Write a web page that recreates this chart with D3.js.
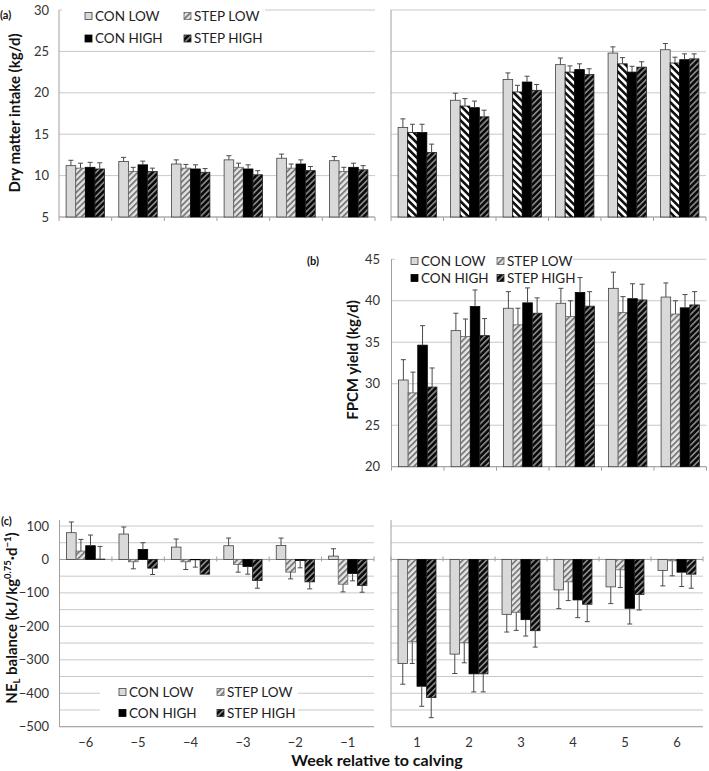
<!DOCTYPE html>
<html><head><meta charset="utf-8">
<script src="https://cdn.jsdelivr.net/npm/d3@7"></script>
<style>
body{margin:0;background:#fff;}
svg{display:block;font-family:Lato,"Open Sans",sans-serif;}
</style></head>
<body><svg id="c" width="709" height="771"></svg>
<script>
// ---------- data ----------
const weeksPre = ["−6","−5","−4","−3","−2","−1"];
const weeksPost = ["1","2","3","4","5","6"];
const series = ["CON LOW","STEP LOW","CON HIGH","STEP HIGH"];

// Dry matter intake (kg/d), weeks -6..-1 then 1..6
const dmiConLow   = [11.2,11.7,11.4,11.9,12.1,11.8, 15.8,19.1,21.6,23.4,24.8,25.2];
const dmiStepLow  = [10.9,10.5,10.9,11.0,10.9,10.5, 15.2,18.4,20.1,22.5,23.5,23.6];
const dmiConHigh  = [11.0,11.3,10.8,10.8,11.4,11.0, 15.2,18.2,21.3,22.8,22.5,24.0];
const dmiStepHigh = [10.8,10.5,10.4,10.1,10.6,10.7, 12.8,17.1,20.3,22.2,23.1,24.1];
const dmiSE = [
  [0.65,0.5,0.5,0.5,0.5,0.5, 1.05,0.85,0.8,0.8,0.75,0.75],
  [0.6,0.5,0.45,0.5,0.5,0.5, 1.0,0.9,0.8,0.75,0.75,0.7],
  [0.6,0.45,0.5,0.5,0.5,0.5, 1.0,0.8,0.7,0.7,0.7,0.7],
  [0.75,0.4,0.45,0.5,0.5,0.5, 1.0,0.8,0.7,0.7,0.65,0.6]
];
// FPCM yield (kg/d), weeks 1..6
const fpcmConLow   = [30.45,36.4,39.1,39.7,41.5,40.45];
const fpcmStepLow  = [28.9,35.7,37.1,38.1,38.6,38.4];
const fpcmConHigh  = [34.65,39.3,39.75,41.0,40.25,39.15];
const fpcmStepHigh = [29.6,35.8,38.5,39.35,40.1,39.5];
const fpcmSE = [
  [2.45,2.1,2.0,1.8,1.95,1.7],
  [2.5,2.1,2.0,1.9,1.9,1.6],
  [2.35,2.0,1.8,1.8,1.8,1.6],
  [2.3,2.05,1.85,1.75,1.9,1.6]
];
// NEL balance, weeks -6..-1 then 1..6
const nelConLow   = [80,76,37,41,42,10, -311,-283,-164,-91,-82,-33];
const nelStepLow  = [25,-7,-7,-15,-38,-74, -246,-249,-158,-67,-31,-4];
const nelConHigh  = [41,30,-1,-21,-3,-42, -379,-342,-180,-121,-146,-38];
const nelStepHigh = [1,-26,-44,-63,-67,-78, -413,-342,-213,-134,-105,-44];
const nelSE = [
  [32,21,24,23,22,22, 62,58,53,56,50,46],
  [35,21,23,23,20,23, 65,60,54,56,53,45],
  [32,20,22,23,22,22, 60,54,49,53,47,43],
  [38,19,0,23,21,20, 60,54,49,52,46,42]
];
const dmiTicks = [5,10,15,20,25,30];
const fpcmTicks = [20,25,30,35,40,45];
const nelTicks = [-500,-400,-300,-200,-100,0,100];
const nelGrid = [-500,-450,-400,-350,-300,-250,-200,-150,-100,-50,0,50,100];

// ---------- setup ----------
const svg = d3.select("#c");
const defs = svg.append("defs");
function stripePattern(id, bg, fg, period, sw, angle){
  const p = defs.append("pattern").attr("id",id).attr("patternUnits","userSpaceOnUse")
    .attr("width",period).attr("height",period).attr("patternTransform",`rotate(${angle})`);
  p.append("rect").attr("width",period).attr("height",period).attr("fill",bg);
  p.append("rect").attr("width",sw).attr("height",period).attr("fill",fg);
}
stripePattern("stepLow","#e4e4e4","#7a7a7a",4.2,1.8,45);
stripePattern("stepLowBW","#ffffff","#111111",5.2,2.6,-45);
stripePattern("stepHigh","#0a0a0a","#8a8a8a",4.2,1.6,45);

const fills = {
  "CON LOW": {fill:"#d9d9d9", stroke:"#404040"},
  "STEP LOW": {fill:"url(#stepLow)", stroke:"#666"},
  "CON HIGH": {fill:"#000", stroke:"#000"},
  "STEP HIGH": {fill:"url(#stepHigh)", stroke:"#222"}
};
const gridCol = "#c9c9c9", axisCol = "#a0a0a0", textCol = "#333";

function drawGroup(opts){
  const {cats, means, ses, range, y, stepLowFill, base, grid, axisTop, zeroTicks} = opts;
  const g = svg.append("g");
  const x0 = d3.scaleBand().domain(cats).range(range).paddingInner(0).paddingOuter(0);
  const x1 = d3.scaleBand().domain(series).range([0,x0.bandwidth()]).paddingInner(0).paddingOuter(0.74);
  g.selectAll("line.grid").data(grid).join("line")
    .attr("x1",range[0]).attr("x2",range[1]).attr("y1",d=>y(d)).attr("y2",d=>y(d))
    .attr("stroke",gridCol).attr("stroke-width",1);
  g.append("line").attr("x1",range[0]).attr("x2",range[0]).attr("y1",axisTop).attr("y2",y(y.domain()[0]))
    .attr("stroke",axisCol);
  g.append("line").attr("x1",range[0]).attr("x2",range[1]).attr("y1",y(y.domain()[0])).attr("y2",y(y.domain()[0]))
    .attr("stroke",axisCol);
  const bounds = cats.map(c=>x0(c)).concat([range[1]]);
  if(zeroTicks){
    g.selectAll("line.zt").data(bounds).join("line")
      .attr("x1",d=>d).attr("x2",d=>d).attr("y1",y(0)-3).attr("y2",y(0)+2).attr("stroke",axisCol);
    g.append("line").attr("x1",range[0]).attr("x2",range[1]).attr("y1",y(0)).attr("y2",y(0)).attr("stroke",axisCol);
  } else {
    g.selectAll("line.bt").data(bounds).join("line")
      .attr("x1",d=>d).attr("x2",d=>d).attr("y1",y(y.domain()[0])).attr("y2",y(y.domain()[0])+4).attr("stroke",axisCol);
  }
  const recs = [];
  series.forEach((s,si)=>{
    cats.forEach((c,ci)=>{ recs.push({s, c, v:means[si][ci], e:ses[si][ci]}); });
  });
  g.selectAll("rect.bar").data(recs).join("rect")
    .attr("x",d=>x0(d.c)+x1(d.s)).attr("width",x1.bandwidth())
    .attr("y",d=>Math.min(y(d.v),y(base))).attr("height",d=>Math.abs(y(d.v)-y(base)))
    .attr("fill",d=> d.s==="STEP LOW" ? stepLowFill : fills[d.s].fill)
    .attr("stroke",d=> d.s==="STEP LOW" && stepLowFill==="url(#stepLowBW)" ? "#111" : fills[d.s].stroke)
    .attr("stroke-width",0.8);
  const eb = recs.filter(d=>d.e>0);
  const ex = d=>x0(d.c)+x1(d.s)+x1.bandwidth()/2;
  const ee = d=> d.v>=base ? y(d.v+d.e) : y(d.v-d.e);
  g.selectAll("line.eb").data(eb).join("line")
    .attr("x1",ex).attr("x2",ex).attr("y1",d=>y(d.v)).attr("y2",ee)
    .attr("stroke","#4a4a4a").attr("stroke-width",1);
  g.selectAll("line.ec").data(eb).join("line")
    .attr("x1",d=>ex(d)-2.5).attr("x2",d=>ex(d)+2.5).attr("y1",ee).attr("y2",ee)
    .attr("stroke","#4a4a4a").attr("stroke-width",1);
  return x0;
}
function yAxisLabels(y, ticks, xr, fmt){
  svg.append("g").selectAll("text").data(ticks).join("text")
    .attr("x",xr).attr("y",d=>y(d)).attr("dy","0.35em").attr("text-anchor","end")
    .attr("font-size",13).attr("fill",textCol).text(fmt||(d=>d));
}
function legend(x, yTop, rowGap, colGap, boxW, boxH, boxX, boxY){
  svg.append("rect").attr("x",boxX).attr("y",boxY).attr("width",boxW).attr("height",boxH).attr("fill","#fff");
  const g = svg.append("g");
  series.forEach((s,i)=>{
    const col = i%2, row = Math.floor(i/2);
    const gx = x+col*colGap, gy = yTop+row*rowGap;
    g.append("rect").attr("x",gx).attr("y",gy-3.5).attr("width",7).attr("height",7)
      .attr("fill", s==="STEP LOW"?"url(#stepLow)":fills[s].fill).attr("stroke",fills[s].stroke).attr("stroke-width",0.8);
    g.append("text").attr("x",gx+10).attr("y",gy).attr("dy","0.35em").attr("font-size",13.5)
      .attr("fill","#222").text(s);
  });
}
const minus = d=> d<0 ? "\u2212"+Math.abs(d) : ""+d;

// ---------- panel (a) ----------
const yA = d3.scaleLinear().domain([5,30]).range([217,10]);
drawGroup({cats:weeksPre, means:[dmiConLow,dmiStepLow,dmiConHigh,dmiStepHigh].map(a=>a.slice(0,6)),
  ses:dmiSE.map(a=>a.slice(0,6)), range:[59,375], y:yA, stepLowFill:"url(#stepLow)", base:5, grid:dmiTicks, axisTop:10});
drawGroup({cats:weeksPost, means:[dmiConLow,dmiStepLow,dmiConHigh,dmiStepHigh].map(a=>a.slice(6)),
  ses:dmiSE.map(a=>a.slice(6)), range:[391,706], y:yA, stepLowFill:"url(#stepLowBW)", base:5, grid:dmiTicks, axisTop:10});
yAxisLabels(yA, dmiTicks, 49);
legend(85, 16, 22.5, 99, 203, 44, 62, 0);
svg.append("text").attr("transform","translate(20,113) rotate(-90)").attr("text-anchor","middle")
  .attr("font-size",15).attr("font-weight","bold").attr("fill","#111").text("Dry matter intake (kg/d)");
svg.append("text").attr("x",0).attr("y",19).attr("font-size",11).attr("font-weight","bold").attr("fill","#111").text("(a)");

// ---------- panel (b) ----------
const yB = d3.scaleLinear().domain([20,45]).range([466.7,259.3]);
drawGroup({cats:weeksPost, means:[fpcmConLow,fpcmStepLow,fpcmConHigh,fpcmStepHigh], ses:fpcmSE,
  range:[391.5,706.5], y:yB, stepLowFill:"url(#stepLow)", base:20, grid:fpcmTicks, axisTop:259});
yAxisLabels(yB, fpcmTicks, 380);
legend(411, 261, 17, 86, 178, 34, 395, 248);
svg.append("text").attr("transform","translate(358,360) rotate(-90)").attr("text-anchor","middle")
  .attr("font-size",15).attr("font-weight","bold").attr("fill","#111").text("FPCM yield (kg/d)");
svg.append("text").attr("x",307).attr("y",265).attr("font-size",11).attr("font-weight","bold").attr("fill","#111").text("(b)");

// ---------- panel (c) ----------
const yC = d3.scaleLinear().domain([-500,100]).range([726.7,526]);
const xCpre = drawGroup({cats:weeksPre, means:[nelConLow,nelStepLow,nelConHigh,nelStepHigh].map(a=>a.slice(0,6)),
  ses:nelSE.map(a=>a.slice(0,6)), range:[59.5,374], y:yC, stepLowFill:"url(#stepLow)", base:0, grid:nelGrid, axisTop:520, zeroTicks:true});
const xCpost = drawGroup({cats:weeksPost, means:[nelConLow,nelStepLow,nelConHigh,nelStepHigh].map(a=>a.slice(6)),
  ses:nelSE.map(a=>a.slice(6)), range:[391,703], y:yC, stepLowFill:"url(#stepLow)", base:0, grid:nelGrid, axisTop:520, zeroTicks:true});
const tl = svg.append("text").attr("transform","translate(17,618) rotate(-90)").attr("text-anchor","middle")
  .attr("font-size",15).attr("font-weight","bold").attr("fill","#111");
tl.append("tspan").text("NE");
tl.append("tspan").attr("font-size",9.5).attr("dy",3).text("L");
tl.append("tspan").attr("dy",-3).text(" balance (kJ/kg");
tl.append("tspan").attr("font-size",9.5).attr("dy",-6).text("0.75");
tl.append("tspan").attr("dy",6).text("·d");
tl.append("tspan").attr("font-size",9.5).attr("dy",-6).text("−1");
tl.append("tspan").attr("dy",6).text(")");
yAxisLabels(yC, nelTicks, 49, minus);
legend(119, 692, 21, 98, 198, 40, 100, 682);
[[xCpre,weeksPre],[xCpost,weeksPost]].forEach(([sc,cats])=>{
  svg.append("g").selectAll("text").data(cats).join("text")
    .attr("x",d=>sc(d)+sc.bandwidth()/2).attr("y",747).attr("text-anchor","middle")
    .attr("font-size",13).attr("fill",textCol).text(d=>d);
});
svg.append("text").attr("x",1).attr("y",525).attr("font-size",11).attr("font-weight","bold").attr("fill","#111").text("(c)");
svg.append("text").attr("x",377).attr("y",766).attr("text-anchor","middle")
  .attr("font-size",16).attr("font-weight","bold").attr("fill","#111").text("Week relative to calving");
</script></body></html>
